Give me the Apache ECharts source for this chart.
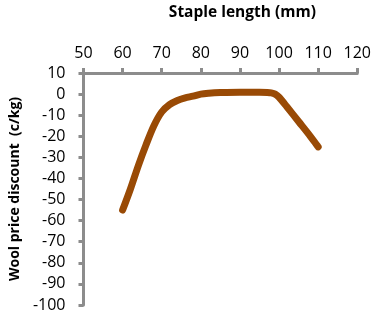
<!DOCTYPE html>
<html>
<head>
<meta charset="utf-8">
<script src="https://cdn.jsdelivr.net/npm/echarts@6/dist/echarts.min.js"></script>
<style>
  html, body { margin: 0; padding: 0; background: #fff; }
  #chart { width: 374px; height: 313px; }
</style>
</head>
<body>
<div id="chart"></div>
<script>
// staple length (mm) and price discount (c/kg)
var stapleLength = [60, 62, 64, 66, 68, 70, 72, 74, 76, 78, 80, 82, 85, 90, 95, 97, 98, 99, 100, 102, 105, 108, 110];
var discount = [-55, -45, -34, -24, -15, -8.5, -5, -3, -1.8, -1, 0, 0.4, 0.7, 0.9, 0.9, 0.8, 0.6, 0, -1.5, -6, -13, -20, -25];

var xMin = 50, xMax = 120, xStep = 10;
var yMin = -100, yMax = 10, yStep = 10;

var chartObj = {
    myChart : echarts.init(document.getElementById('chart')),
    option : null,
    init : function(){
        var that = this;
        that.render();
    },
    render : function(){
        var that = this;
        var pts = stapleLength.map(function(x, i){ return [x, discount[i]]; });
        var axisColor = '#8c8c8c';
        var font = '"Open Sans", sans-serif';
        that.option = {
            animation: false,
            grid: { left: 82, right: 16, top: 68, bottom: 6 },
            xAxis: {
                type: 'value',
                position: 'top',
                min: xMin, max: xMax, interval: xStep,
                name: 'Staple length (mm)',
                nameLocation: 'middle',
                nameGap: 52,
                // title sits a bit right of the plot centre in the original
                nameTextStyle: { fontFamily: font, fontWeight: 'bold', fontSize: 15.5, color: '#000', padding: [0, 0, 0, 44] },
                axisLine: { show: true, onZero: false, lineStyle: { color: axisColor, width: 3 } },
                axisTick: { show: true, length: 5, lineStyle: { color: axisColor, width: 3 } },
                axisLabel: { margin: 12, fontFamily: font, fontSize: 16, color: '#000' },
                splitLine: { show: false }
            },
            yAxis: {
                type: 'value',
                min: yMin, max: yMax, interval: yStep,
                name: 'Wool price discount  (c/kg)',
                nameLocation: 'middle',
                nameGap: 56,
                nameTextStyle: { fontFamily: font, fontWeight: 'bold', fontSize: 14, color: '#000' },
                axisLine: { show: true, onZero: false, lineStyle: { color: axisColor, width: 3 } },
                axisTick: { show: true, length: 5, lineStyle: { color: axisColor, width: 3 } },
                axisLabel: { margin: 18, fontFamily: font, fontSize: 16, color: '#000' },
                splitLine: { show: false }
            },
            series: [{
                type: 'line',
                data: pts,
                smooth: 0.3,
                showSymbol: false,
                lineStyle: { color: '#994a05', width: 7, cap: 'round', join: 'round' }
            }]
        };
        that.myChart.setOption(that.option);
    }
};
chartObj.init();
</script>
</body>
</html>
